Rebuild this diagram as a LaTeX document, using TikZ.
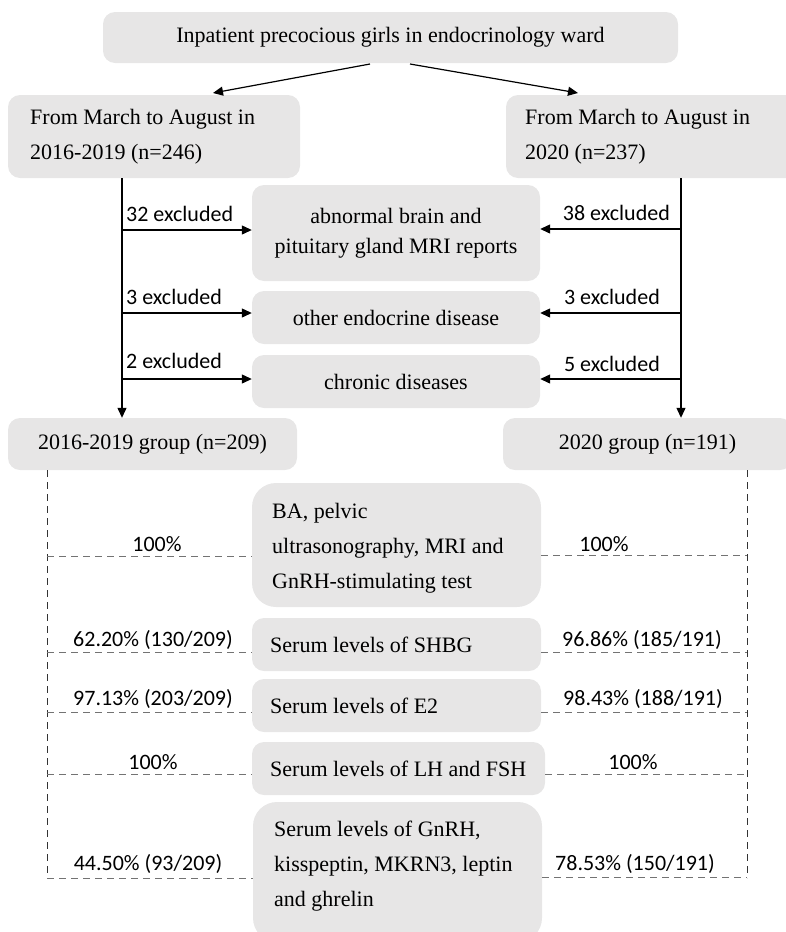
\documentclass[tikz,border=0pt]{standalone}
\usepackage{fontspec}
\setmainfont{Liberation Serif}
\newfontfamily\labfont{Carlito}
\usetikzlibrary{arrows.meta}
\definecolor{boxgray}{HTML}{E7E6E6}
\begin{document}
\begin{tikzpicture}[x=1pt,y=-1pt,
  box/.style={fill=boxgray, rounded corners=12pt, inner sep=0pt, font=\fontsize{22}{35}\selectfont},
  bigbox/.style={box, rounded corners=24pt},
  txt/.style={inner sep=0pt, font=\fontsize{22}{35}\selectfont, align=left, anchor=west},
  arr/.style={line width=1.2pt, -{Triangle[length=10pt,width=9pt]}},
  dashv/.style={dashed, dash pattern=on 7pt off 5pt, line width=1pt, black!80},
  dashh/.style={dashed, dash pattern=on 7pt off 5pt, line width=1pt, black!55},
  lab/.style={font=\labfont\fontsize{22}{26}\selectfont, inner sep=0pt}]
\useasboundingbox (0,0) rectangle (786,932);

% top
\node[box, minimum width=575pt, minimum height=51pt] (top) at (390.5,37.5) {Inpatient precocious girls in endocrinology ward};
\node[box, minimum width=292pt, minimum height=83pt] (lbox) at (154,136.5) {};
\node[txt] (lboxtext) at (30,136.5) {From March to August in\\2016-2019 (n=246)};
\node[box, minimum width=292pt, minimum height=83pt] (rbox) at (652,136.5) {};
\node[txt] (rboxtext) at (525,136.5) {From March to August in\\2020 (n=237)};

\coordinate (ta) at (370,64);
\coordinate (tb) at (410,64);
\coordinate (la) at (213,93);
\coordinate (ra) at (578,93);
\draw[arr] (ta) -- (la);
\draw[arr] (tb) -- (ra);

% exclusion boxes
\node[box, minimum width=288pt, minimum height=96pt, align=center, font=\fontsize{22}{30}\selectfont] (ex1) at (396,233) {abnormal brain and\\pituitary gland MRI reports};
\node[box, minimum width=288pt, minimum height=53pt] (ex2) at (396,317.5) {other endocrine disease};
\node[box, minimum width=288pt, minimum height=53pt] (ex3) at (396,381.5) {chronic diseases};

% groups
\node[box, minimum width=289pt, minimum height=52pt] (lgrp) at (152.5,444) {2016-2019 group (n=209)};
\node[box, minimum width=289pt, minimum height=52pt] (rgrp) at (647.5,444) {2020 group (n=191)};

% vertical flow lines
\coordinate (lx) at (122,0);
\coordinate (rx) at (681,0);
\draw[arr] (lbox.south -| lx) -- (lgrp.north -| lx);
\draw[arr] (rbox.south -| rx) -- (rgrp.north -| rx);

\coordinate (l1) at (122,230);
\coordinate (r1) at (681,229);
\coordinate (l2) at (122,313);
\coordinate (r2) at (681,313);
\coordinate (l3) at (122,379);
\coordinate (r3) at (681,379);
\draw[arr] (l1) -- (ex1.west |- l1);
\draw[arr] (r1) -- (ex1.east |- r1);
\draw[arr] (l2) -- (ex2.west |- l2);
\draw[arr] (r2) -- (ex2.east |- r2);
\draw[arr] (l3) -- (ex3.west |- l3);
\draw[arr] (r3) -- (ex3.east |- r3);

\node[lab, anchor=base west] (tl1) at (126,221) {32 excluded};
\node[lab, anchor=base east] (tr1) at (670,220) {38 excluded};
\node[lab, anchor=base west] (tl2) at (126,304) {3 excluded};
\node[lab, anchor=base east] (tr2) at (660,304) {3 excluded};
\node[lab, anchor=base west] (tl3) at (126,368) {2 excluded};
\node[lab, anchor=base east] (tr3) at (660,371) {5 excluded};

% examination boxes
\node[bigbox, minimum width=289pt, minimum height=124pt] (ba) at (396.5,545) {};
\node[txt] (batext) at (272,548) {BA, pelvic\\ultrasonography, MRI and\\GnRH-stimulating test};
\node[box, minimum width=289pt, minimum height=53pt] (shbg) at (396.5,644.5) {};
\node[txt] (shbgtext) at (270,645) {Serum levels of SHBG};
\node[box, minimum width=289pt, minimum height=53pt] (e2) at (396.5,705.5) {};
\node[txt] (e2text) at (270,706) {Serum levels of E2};
\node[box, minimum width=293pt, minimum height=53pt] (lh) at (398.5,768.5) {};
\node[txt] (lhtext) at (270,769) {Serum levels of LH and FSH};
\node[bigbox, minimum width=289pt, minimum height=140pt] (gn) at (397.5,872) {};
\node[txt] (gntext) at (274,866) {Serum levels of GnRH,\\kisspeptin, MKRN3, leptin\\and ghrelin};

% dashed frame
\coordinate (dlt) at (47,470);
\coordinate (dlb) at (47,878);
\coordinate (drt) at (747,470);
\coordinate (drb) at (747,878);
\draw[dashv] (dlt) -- (dlb);
\draw[dashv] (drt) -- (drb);

\coordinate (d1l) at (47,556);
\coordinate (d1r) at (747,555);
\coordinate (d2l) at (47,652);
\coordinate (d2r) at (747,652);
\coordinate (d3l) at (47,712);
\coordinate (d3r) at (747,712);
\coordinate (d4l) at (47,774);
\coordinate (d4r) at (747,774);
\coordinate (d5l) at (47,878);
\coordinate (d5r) at (747,877);
\draw[dashh] (d1l) -- (ba.west |- d1l);
\draw[dashh] (ba.east |- d1r) -- (d1r);
\draw[dashh] (d2l) -- (shbg.west |- d2l);
\draw[dashh] (shbg.east |- d2r) -- (d2r);
\draw[dashh] (d3l) -- (e2.west |- d3l);
\draw[dashh] (e2.east |- d3r) -- (d3r);
\draw[dashh] (d4l) -- (lh.west |- d4l);
\draw[dashh] (lh.east |- d4r) -- (d4r);
\draw[dashh] (d5l) -- (gn.west |- d5l);
\draw[dashh] (gn.east |- d5r) -- (d5r);

\node[lab, anchor=base] (p1l) at (157,551) {100\%};
\node[lab, anchor=base] (p1r) at (604,551) {100\%};
\node[lab, anchor=base] (p2l) at (153,646) {62.20\% (130/209)};
\node[lab, anchor=base] (p2r) at (642,646) {96.86\% (185/191)};
\node[lab, anchor=base] (p3l) at (153,705) {97.13\% (203/209)};
\node[lab, anchor=base] (p3r) at (643,705) {98.43\% (188/191)};
\node[lab, anchor=base] (p4l) at (153,769) {100\%};
\node[lab, anchor=base] (p4r) at (633,769) {100\%};
\node[lab, anchor=base] (p5l) at (148,870) {44.50\% (93/209)};
\node[lab, anchor=base] (p5r) at (635,870) {78.53\% (150/191)};
\end{tikzpicture}
\end{document}
